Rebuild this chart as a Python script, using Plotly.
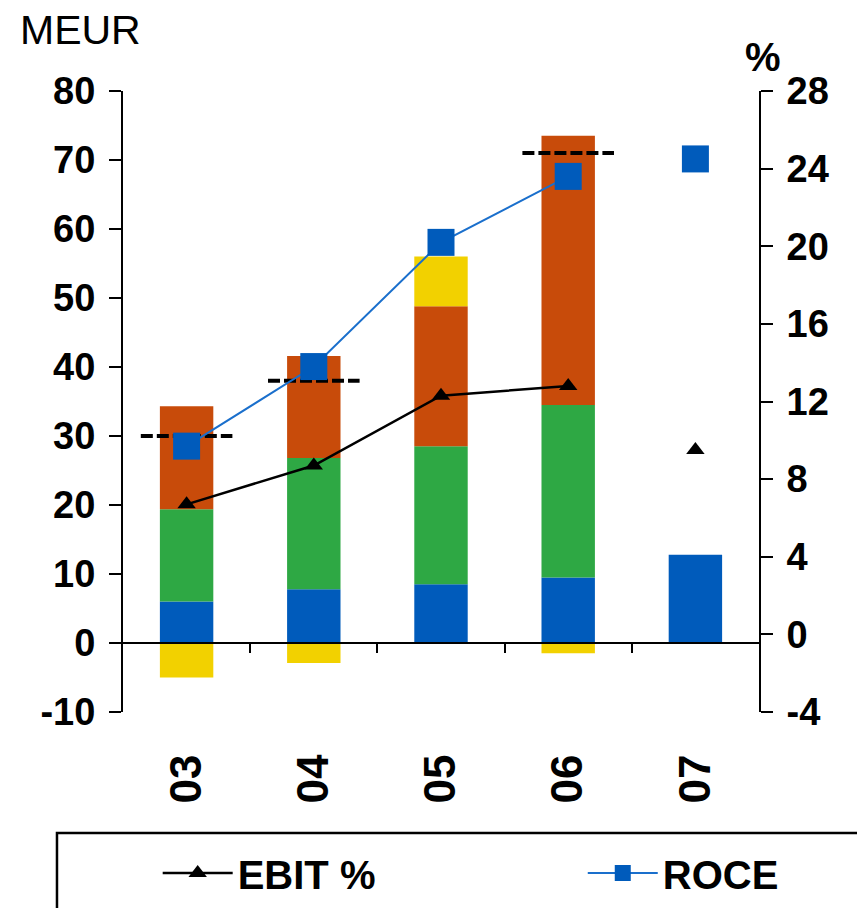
import plotly.graph_objects as go

# Years on the category axis
years = ["03", "04", "05", "06", "07"]

# Stacked bar segments, MEUR (left axis)
seg_blue = [6.0, 7.8, 8.5, 9.5, 12.8]
seg_green = [13.4, 19.0, 20.0, 25.0, None]
seg_orange = [14.9, 14.8, 20.3, 39.0, None]
seg_yellow = [-5.0, -2.9, 7.2, -1.5, None]

# Dashed reference level per year, MEUR
dash_level = [30, 38, None, 71, None]

# Ratios, % (right axis)
ebit_pct = [6.7, 8.7, 12.3, 12.8, 9.5]
roce_pct = [9.7, 13.8, 20.2, 23.6, 24.5]

left_ticks = list(range(-10, 81, 10))
right_ticks = list(range(-4, 29, 4))

FONT = "Liberation Sans, Arial, sans-serif"
C_BLUE = "#005BBB"
C_GREEN = "#2EA844"
C_ORANGE = "#C84B0A"
C_YELLOW = "#F2D100"
C_LINE_BLUE = "#1A6FCC"

xpos = list(range(len(years)))
y_lo, y_hi = left_ticks[0], left_ticks[-1]

fig = go.Figure()

for vals, col in [(seg_blue, C_BLUE), (seg_green, C_GREEN),
                  (seg_orange, C_ORANGE), (seg_yellow, C_YELLOW)]:
    fig.add_trace(go.Bar(x=xpos, y=vals, marker=dict(color=col, line=dict(width=0)),
                         width=0.42, showlegend=False, hoverinfo="skip"))

# Short dashed level markers centred on each year
dx, dy = [], []
for i, v in enumerate(dash_level):
    if v is None:
        continue
    dx += [i - 0.36, i + 0.36, None]
    dy += [v, v, None]
fig.add_trace(go.Scatter(x=dx, y=dy, mode="lines", showlegend=False, hoverinfo="skip",
                         line=dict(color="black", width=4, dash="12px,4px")))

# EBIT % : connected actuals plus separate last-year point
fig.add_trace(go.Scatter(x=xpos[:4], y=ebit_pct[:4], yaxis="y2", mode="lines+markers",
                         name="EBIT %", legend="legend", line=dict(color="black", width=2.5),
                         marker=dict(symbol="triangle-up", size=16, color="black")))
fig.add_trace(go.Scatter(x=xpos[4:], y=ebit_pct[4:], yaxis="y2", mode="markers",
                         showlegend=False,
                         marker=dict(symbol="triangle-up", size=16, color="black")))

# ROCE : connected actuals plus separate last-year point
fig.add_trace(go.Scatter(x=xpos[:4], y=roce_pct[:4], yaxis="y2", mode="lines+markers",
                         name="ROCE", legend="legend2", line=dict(color=C_LINE_BLUE, width=2),
                         marker=dict(symbol="square", size=27, color=C_BLUE)))
fig.add_trace(go.Scatter(x=xpos[4:], y=roce_pct[4:], yaxis="y2", mode="markers",
                         showlegend=False,
                         marker=dict(symbol="square", size=27, color=C_BLUE)))

tick_font = dict(family=FONT, size=38, color="black", weight="bold")
legend_font = dict(family=FONT, size=40, color="black", weight="bold")

fig.update_layout(
    width=857, height=908,
    margin=dict(l=123, r=98, t=91, b=196),
    paper_bgcolor="white", plot_bgcolor="white",
    barmode="relative",
    font=dict(family=FONT, color="black"),
    xaxis=dict(
        range=[-0.5, len(years) - 0.5], automargin=False,
        anchor="free", position=(0 - y_lo) / (y_hi - y_lo),
        showline=True, linecolor="black", linewidth=2,
        showgrid=False, zeroline=False,
        tickmode="array", tickvals=xpos, ticktext=years,
        ticks="", tickangle=-90, ticklabelstandoff=93,
        tickfont=dict(family=FONT, size=44, color="black", weight="bold"),
        minor=dict(tickmode="array", tickvals=[i + 0.5 for i in xpos[:-1]],
                   ticks="outside", ticklen=9, tickwidth=2, tickcolor="black"),
    ),
    yaxis=dict(
        range=[y_lo, y_hi], tickmode="array", tickvals=left_ticks,
        ticktext=[str(v) for v in left_ticks], automargin=False,
        showline=True, linecolor="black", linewidth=2,
        ticks="outside", ticklen=12, tickwidth=2, tickcolor="black",
        showgrid=False, zeroline=False, tickfont=tick_font,
        ticklabelstandoff=6,
    ),
    yaxis2=dict(
        range=[right_ticks[0], right_ticks[-1]], tickmode="array", tickvals=right_ticks,
        ticktext=[str(v) for v in right_ticks], automargin=False,
        overlaying="y", side="right", anchor="x",
        showline=True, linecolor="black", linewidth=2,
        ticks="outside", ticklen=12, tickwidth=2, tickcolor="black",
        showgrid=False, zeroline=False, tickfont=tick_font,
        ticklabelstandoff=6,
    ),
    legend=dict(
        orientation="h", xref="container", yref="container",
        x=0.184, xanchor="left", y=0.0385, yanchor="middle", itemwidth=70,
        font=legend_font, bgcolor="rgba(0,0,0,0)", borderwidth=0,
    ),
    legend2=dict(
        orientation="h", xref="container", yref="container",
        x=0.680, xanchor="left", y=0.0385, yanchor="middle", itemwidth=70,
        font=legend_font, bgcolor="rgba(0,0,0,0)", borderwidth=0,
    ),
    annotations=[
        dict(text="MEUR", xref="paper", yref="paper", x=-0.165, y=1.098,
             xanchor="left", yanchor="middle", showarrow=False,
             font=dict(family=FONT, size=41, color="black")),
        dict(text="%", xref="paper", yref="paper", x=1.0063, y=1.055,
             xanchor="center", yanchor="middle", showarrow=False,
             font=dict(family=FONT, size=40, color="black", weight="bold")),
    ],
    shapes=[
        dict(type="rect", xref="paper", yref="paper",
             x0=-0.1038, x1=1.4, y0=-0.7, y1=-0.1948,
             line=dict(color="black", width=2.5), fillcolor="rgba(0,0,0,0)"),
    ],
)

fig.write_html("out.html")
